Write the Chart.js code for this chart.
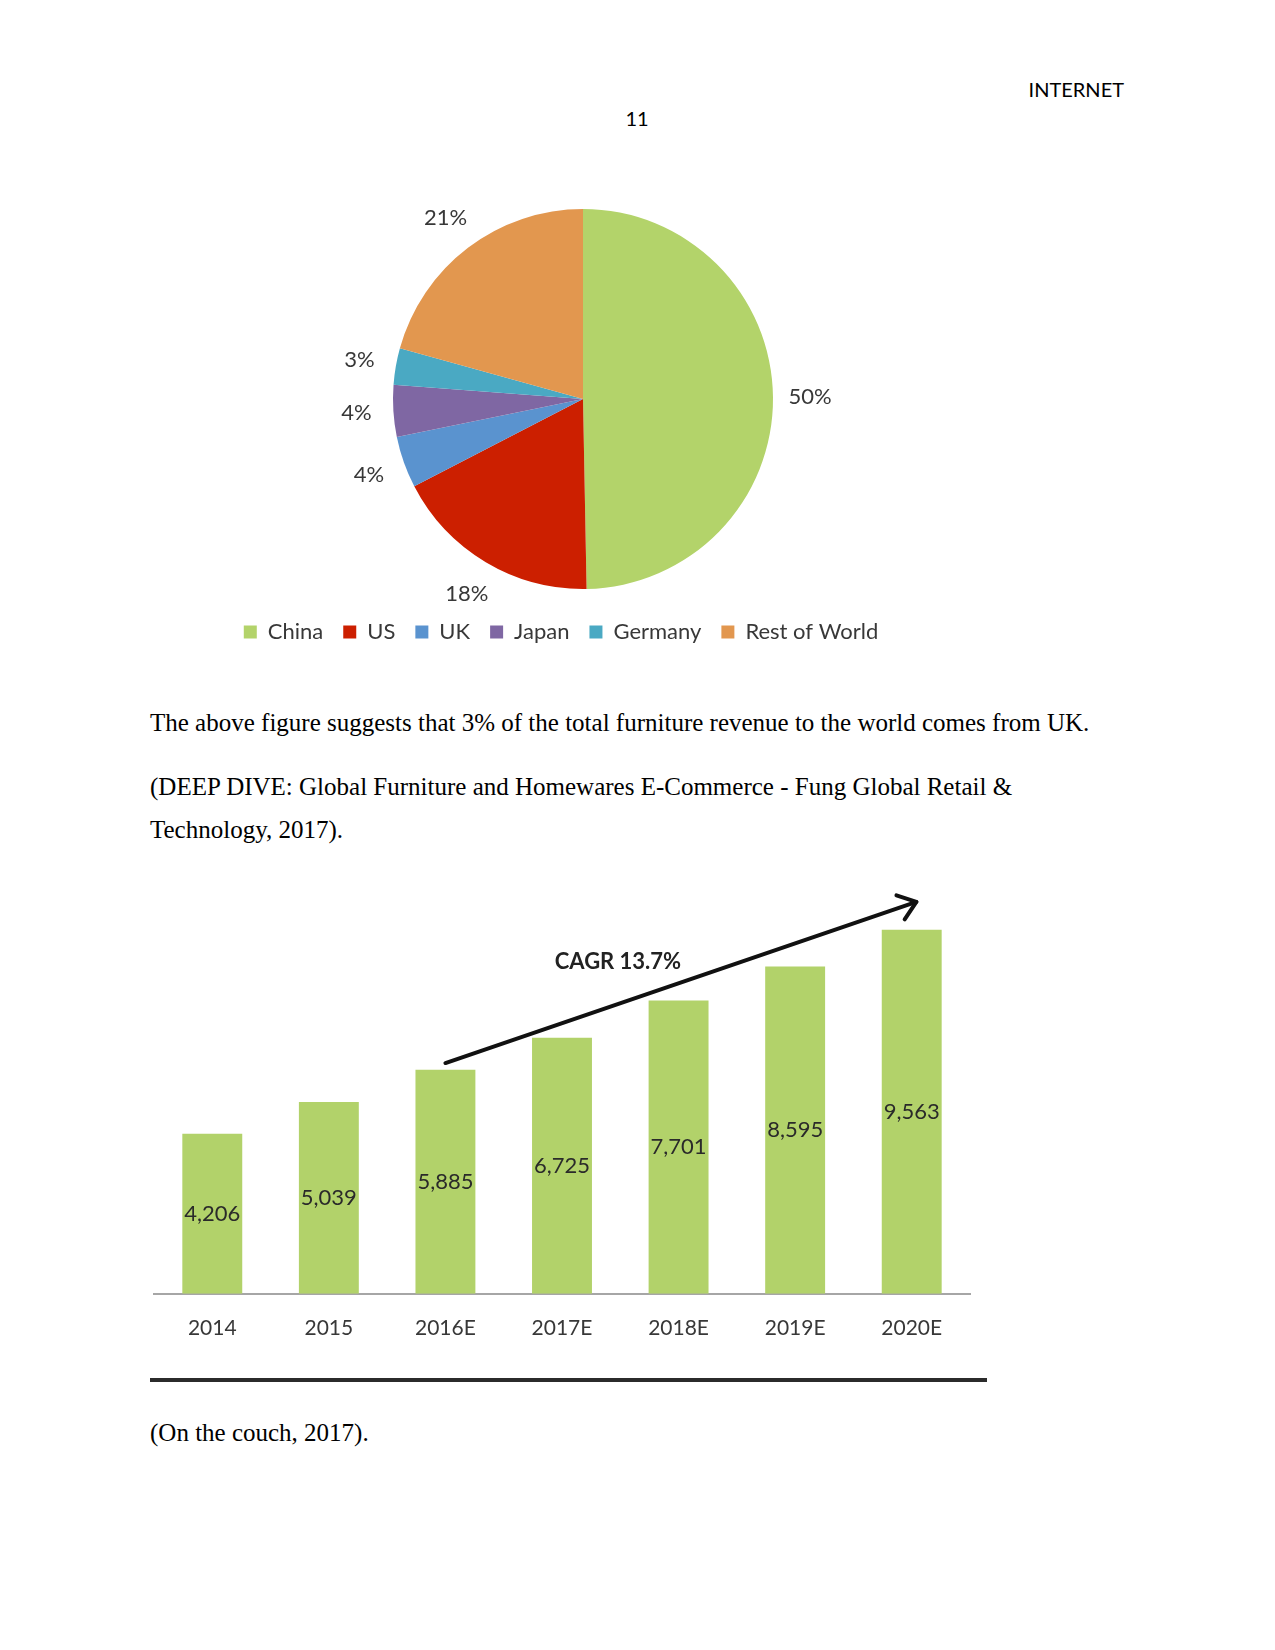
<!DOCTYPE html>
<html>
<head>
<meta charset="utf-8">
<script src="https://cdn.jsdelivr.net/npm/chart.js@4.4.0/dist/chart.umd.min.js"></script>
<style>
  body { margin: 0; background: #fff; }
  #page { position: relative; width: 1275px; height: 1650px; background: #fff; overflow: hidden; }
  .txt { position: absolute; white-space: nowrap; }
  .serif { font-family: "Liberation Serif", "Times New Roman", serif; font-size: 25px; line-height: 30px; color: #000; }
  .sans { font-family: Lato, "Open Sans", sans-serif; font-size: 20px; line-height: 24px; color: #000; }
  canvas { position: absolute; }
</style>
</head>
<body>
<div id="page">
  <div class="txt sans" style="right:151px; top:77px;">INTERNET</div>
  <div class="txt sans" style="left:587px; width:100px; text-align:center; top:106px;">11</div>

  <canvas id="pieChart" width="700" height="513" style="left:211px; top:150px;"></canvas>

  <div class="txt serif" style="left:150px; top:708px;">The above figure suggests that 3% of the total furniture revenue to the world comes from UK.</div>
  <div class="txt serif" style="left:150px; top:772px;">(DEEP DIVE: Global Furniture and Homewares E-Commerce - Fung Global Retail &amp;</div>
  <div class="txt serif" style="left:150px; top:815px;">Technology, 2017).</div>

  <canvas id="barChart" width="860" height="503" style="left:140px; top:860px;"></canvas>

  <div style="position:absolute; left:150px; top:1378px; width:837px; height:4px; background:#2b2b2b;"></div>
  <div class="txt serif" style="left:150px; top:1418px;">(On the couch, 2017).</div>
</div>

<script>
// pie: share of furniture e-commerce revenue (%)
const regions = ['China', 'US', 'UK', 'Japan', 'Germany', 'Rest of World'];
const shares = [49.7, 17.7, 4.4, 4.4, 3.1, 20.7];

// bars: revenue by year
const years = ['2014', '2015', '2016E', '2017E', '2018E', '2019E', '2020E'];
const revenue = [4206, 5039, 5885, 6725, 7701, 8595, 9563];
const yMax = 10000;

// CAGR annotation, in data units (category index, value)
const cagrText = 'CAGR 13.7%';
const arrowFrom = [2, 6060];
const arrowTo = [6.04, 10290];
const cagrAt = [3.48, 8720];

const regionColors = ['#b3d36a', '#cc1f00', '#5a93cf', '#7f67a3', '#4aa9c3', '#e2974f'];
const barColor = '#b2d26a';
const textGray = '#383838';

const pieLabels = {
  id: 'pieLabels',
  afterDatasetsDraw(chart) {
    const ctx = chart.ctx;
    const meta = chart.getDatasetMeta(0);
    ctx.save();
    ctx.font = '22px Lato';
    ctx.fillStyle = textGray;
    ctx.textAlign = 'center';
    ctx.textBaseline = 'middle';
    meta.data.forEach((arc, i) => {
      const p = arc.getProps(['x', 'y', 'startAngle', 'endAngle', 'outerRadius'], true);
      const mid = (p.startAngle + p.endAngle) / 2;
      const r = p.outerRadius + 37;
      ctx.fillText(Math.round(shares[i]) + '%', p.x + Math.cos(mid) * r, p.y + Math.sin(mid) * r);
    });
    ctx.restore();
  }
};

new Chart(document.getElementById('pieChart'), {
  type: 'pie',
  data: {
    labels: regions,
    datasets: [{
      data: shares,
      backgroundColor: regionColors,
      borderWidth: 0
    }]
  },
  options: {
    responsive: false,
    animation: false,
    layout: { padding: { top: 59, bottom: 10, left: 0, right: 0 } },
    plugins: {
      // empty left title only to push the pie right of the legend centre
      title: {
        display: true,
        position: 'left',
        text: '',
        font: { size: 1, lineHeight: 1 },
        padding: { top: 0, bottom: 43 }
      },
      legend: {
        position: 'bottom',
        title: { display: true, text: '', font: { size: 2, lineHeight: 1 }, padding: 5 },
        labels: {
          boxWidth: 13,
          boxHeight: 13,
          padding: 20,
          color: textGray,
          font: { family: 'Lato', size: 22 }
        }
      },
      tooltip: { enabled: false }
    }
  },
  plugins: [pieLabels]
});

const barLabels = {
  id: 'barLabels',
  afterDatasetsDraw(chart) {
    const ctx = chart.ctx;
    const meta = chart.getDatasetMeta(0);
    ctx.save();
    ctx.font = '22px Lato';
    ctx.fillStyle = '#2a2a2a';
    ctx.textAlign = 'center';
    ctx.textBaseline = 'middle';
    meta.data.forEach((bar, i) => {
      ctx.fillText(revenue[i].toLocaleString('en-US'), bar.x, (bar.y + bar.base) / 2);
    });
    ctx.restore();
  }
};

const cagrArrow = {
  id: 'cagrArrow',
  afterDraw(chart) {
    const { ctx, scales: { x, y } } = chart;
    const x0 = x.getPixelForValue(arrowFrom[0]), y0 = y.getPixelForValue(arrowFrom[1]);
    const x1 = x.getPixelForValue(arrowTo[0]), y1 = y.getPixelForValue(arrowTo[1]);
    const a = Math.atan2(y1 - y0, x1 - x0);
    const h = 21;
    ctx.save();
    ctx.strokeStyle = '#111';
    ctx.lineWidth = 4;
    ctx.lineCap = 'round';
    ctx.lineJoin = 'round';
    ctx.beginPath();
    ctx.moveTo(x0, y0);
    ctx.lineTo(x1, y1);
    ctx.stroke();
    ctx.beginPath();
    ctx.moveTo(x1 - h * Math.cos(a - 0.65), y1 - h * Math.sin(a - 0.65));
    ctx.lineTo(x1, y1);
    ctx.lineTo(x1 - h * Math.cos(a + 0.65), y1 - h * Math.sin(a + 0.65));
    ctx.stroke();
    ctx.font = 'bold 22px Lato';
    ctx.fillStyle = '#222';
    ctx.textAlign = 'center';
    ctx.textBaseline = 'middle';
    ctx.fillText(cagrText, x.getPixelForValue(cagrAt[0]), y.getPixelForValue(cagrAt[1]));
    ctx.restore();
  }
};

new Chart(document.getElementById('barChart'), {
  type: 'bar',
  data: {
    labels: years,
    datasets: [{
      data: revenue,
      backgroundColor: barColor,
      borderWidth: 0,
      categoryPercentage: 1,
      barPercentage: 0.514
    }]
  },
  options: {
    responsive: false,
    animation: false,
    layout: { padding: { top: 53, bottom: 0, left: 14, right: 30 } },
    scales: {
      x: {
        grid: { display: false, drawTicks: false },
        border: { display: true, color: '#a6a6a6', width: 2 },
        ticks: { color: textGray, padding: 22, font: { family: 'Lato', size: 21 } }
      },
      y: {
        display: false,
        min: 0,
        max: yMax
      }
    },
    plugins: {
      legend: { display: false },
      tooltip: { enabled: false }
    }
  },
  plugins: [barLabels, cagrArrow]
});
</script>
</body>
</html>
